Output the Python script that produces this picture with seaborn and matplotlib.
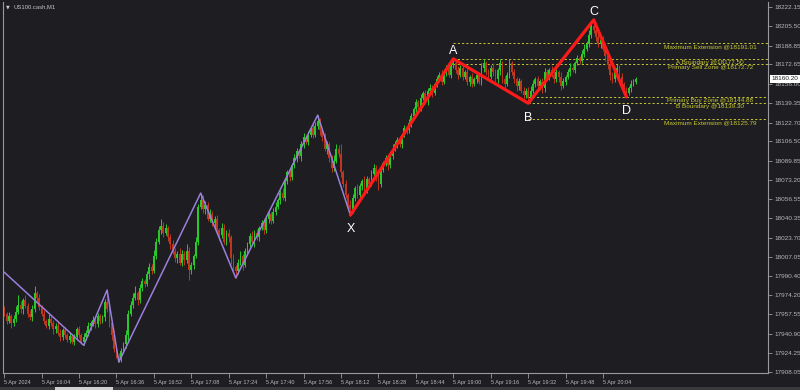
import numpy as np
import pandas as pd
import matplotlib
matplotlib.use("Agg")
import matplotlib.pyplot as plt
import matplotlib.transforms as mtransforms
from matplotlib.patches import Rectangle
import seaborn as sns

# ---------------- data ----------------
symbol_title = "US100.cash,M1"
first_open = 17962.0
close_prices = [
    17958, 17952, 17956, 17950, 17954, 17960, 17966, 17962, 17970, 17965,
    17958, 17955, 17962, 17976, 17972, 17964, 17958, 17952, 17948, 17954,
    17950, 17945, 17948, 17942, 17938, 17944, 17940, 17936, 17939, 17934,
    17938, 17945, 17940, 17934,
    17938, 17942, 17948, 17950, 17953, 17949, 17956, 17952, 17955, 17968,
    17962, 17950, 17940, 17928, 17922, 17919,
    17926, 17932, 17940, 17958, 17966, 17972, 17976, 17970, 17980, 17986,
    17984, 17992, 17998, 17995, 18008, 18020, 18030, 18034, 18028, 18032,
    18024, 18018, 18012, 18006, 18010, 18002, 18010, 18004, 18012, 17996,
    18000, 18008, 18020, 18050, 18056,
    18048, 18052, 18040, 18044, 18036, 18040, 18030, 18026, 18032, 18020,
    18028, 18024, 18006, 17998, 17995,
    18002, 18008, 18000, 18012, 18018, 18025, 18020, 18028, 18024, 18032,
    18036, 18030, 18040, 18044, 18038, 18046, 18050, 18056, 18062, 18058,
    18072, 18080, 18076, 18086, 18092, 18098, 18094, 18104, 18110, 18106,
    18112, 18118, 18112, 18120, 18124,
    18116, 18110, 18100, 18104, 18092, 18084, 18090, 18100, 18096, 18080,
    18070, 18060, 18052, 18048,
    18058, 18066, 18060, 18068, 18072, 18066, 18074, 18070, 18078, 18084,
    18076, 18070, 18082, 18088, 18092, 18086, 18094, 18100, 18104, 18108,
    18104, 18112, 18118, 18116, 18122, 18128, 18134, 18140, 18136, 18144,
    18148, 18142, 18150, 18152, 18148, 18156, 18160, 18164, 18158, 18166,
    18170, 18164, 18172, 18174,
    18168, 18164, 18170, 18162, 18166, 18158, 18162, 18156, 18160, 18164,
    18158, 18170, 18174, 18166, 18162, 18170, 18166, 18160, 18168, 18174,
    18160, 18156, 18164, 18174, 18166, 18160, 18154, 18158, 18150, 18146,
    18150, 18144,
    18150, 18156, 18160, 18154, 18158, 18152, 18166, 18162, 18168, 18164,
    18160, 18166, 18162, 18154, 18158, 18162, 18166, 18170, 18168, 18174,
    18178, 18176, 18182, 18186, 18190, 18198, 18206, 18202,
    18196, 18190, 18194, 18186, 18180, 18172, 18164, 18160, 18166, 18170,
    18162, 18156, 18150, 18148,
    18152, 18156, 18158, 18160.2,
]
wick_up = [
    3, 2, 4, 2, 3, 5, 8, 3, 2, 4,
    2, 3, 4, 6, 2, 3, 2, 3, 2, 4,
    2, 3, 2, 4, 3, 2, 3, 2, 3, 2,
    3, 2, 3, 2, 4, 2, 3, 2, 3, 2,
    3, 2, 2, 3, 10.6, 3, 2, 3, 2, 2,
    3, 2, 4, 3, 3, 4, 6, 2, 4, 3,
    2, 3, 4, 3, 5, 3, 4, 6, 3, 3,
    2, 3, 4, 3, 2, 5, 3, 2, 6, 4,
    3, 2, 4, 3, 6, 4, 3, 2, 4, 3,
    2, 3, 2, 4, 3, 2, 3, 2, 4, 2,
    3, 4, 2, 3, 2, 3, 4, 2, 3, 2,
    3, 4, 2, 3, 2, 3, 4, 2, 3, 4,
    3, 2, 3, 2, 4, 3, 2, 3, 4, 2,
    3, 2, 4, 3, 5, 3, 2, 4, 3, 2,
    3, 5, 4, 3, 8, 2, 3, 2, 4, 3,
    2, 4, 3, 2, 5, 3, 2, 4, 3, 2,
    3, 4, 2, 3, 2, 3, 4, 3, 2, 3,
    2, 3, 2, 4, 3, 2, 3, 2, 3, 2,
    3, 2, 4, 3, 2, 3, 2, 4, 3, 2,
    3, 2, 3.5, 2, 3, 2, 4, 2, 3, 2,
    3, 2, 3, 2, 4, 3, 2, 3, 2, 4,
    3, 2, 3, 2, 3, 2, 3, 2, 3, 2,
    3, 2, 3, 2, 3, 4, 3, 2, 3, 2,
    3, 4, 3, 2, 3, 2, 3, 2, 4, 3,
    2, 3, 4, 3, 2, 3, 2, 3, 4, 3,
    4, 3, 5, 3, 4, 2, 3, 2, 4, 3,
    2, 4, 3, 2, 3, 2, 3, 2, 3, 2,
    2,
]
wick_dn = [
    2, 3, 2, 4, 2, 3, 2, 3, 4, 2,
    3, 2, 3, 2, 4, 3, 2, 3, 2, 3,
    2, 4, 3, 2, 3, 2, 3, 2, 3, 2,
    3, 2, 3, 2, 3, 2, 3, 4, 2, 3,
    2, 3, 2, 3, 2, 3, 4, 3, 2, 2.4,
    2, 2, 3, 4, 2, 3, 2, 4, 3, 2,
    3, 2, 4, 3, 2, 3, 2, 3, 4, 2,
    3, 4, 2, 3, 4, 2, 3, 4, 2, 9,
    4, 3, 2, 3, 2, 3, 4, 2, 3, 2,
    3, 2, 4, 3, 2, 3, 4, 5, 3, 6,
    3, 2, 4, 2, 3, 2, 3, 4, 2, 3,
    2, 3, 2, 4, 3, 2, 3, 2, 3, 2,
    3, 2, 4, 3, 2, 3, 2, 4, 3, 2,
    3, 2, 3, 2, 3, 4, 3, 2, 4, 3,
    4, 3, 2, 3, 4, 3, 2, 4, 5, 3,
    3, 2, 4, 3, 2, 4, 3, 2, 3, 4,
    5, 3, 2, 3, 4, 2, 3, 2, 3, 2,
    3, 2, 3, 2, 3, 2, 3, 2, 3, 2,
    3, 4, 2, 3, 2, 3, 2, 3, 2, 3,
    2, 3, 2, 3, 4, 2, 3, 2, 3, 4,
    3, 2, 3, 2, 3, 4, 2, 3, 2, 3,
    2, 3, 4, 3, 5, 2, 3, 2, 3, 4,
    3, 2, 3, 2, 4.7, 3, 2, 3, 2, 3,
    4, 3, 2, 3, 2, 3, 2, 4, 3, 2,
    3, 2, 3, 2, 3, 2, 3, 2, 3, 2,
    2, 3, 2, 3, 2, 3, 2, 4, 3, 5,
    3, 2, 3, 4, 3, 2, 3.3, 2, 3, 2,
    2,
]

x_tick_pos = [0, 16, 32, 48, 64, 80, 96, 112, 128, 144, 160, 176, 192, 208,
              224, 240, 256]
x_tick_labels = ["5 Apr 2024", "5 Apr 16:04", "5 Apr 16:20", "5 Apr 16:36",
                 "5 Apr 16:52", "5 Apr 17:08", "5 Apr 17:24", "5 Apr 17:40",
                 "5 Apr 17:56", "5 Apr 18:12", "5 Apr 18:28", "5 Apr 18:44",
                 "5 Apr 19:00", "5 Apr 19:16", "5 Apr 19:32", "5 Apr 19:48",
                 "5 Apr 20:04"]
y_tick_values = [18222.15, 18205.50, 18188.85, 18172.65, 18156.00, 18139.35,
                 18122.70, 18106.50, 18089.85, 18073.20, 18056.55, 18040.35,
                 18023.70, 18007.05, 17990.40, 17974.20, 17957.55, 17940.90,
                 17924.25, 17908.05]

zigzag_idx = [0, 34, 44, 49, 84, 99, 134, 148]
zigzag_price = [17994.0, 17931.0, 17978.6, 17916.6, 18062.0, 17989.0,
                18129.0, 18043.0]

pattern_names = ["X", "A", "B", "C", "D"]
pattern_idx = [148, 192, 224, 252, 266]
pattern_price = [18043.0, 18177.5, 18139.3, 18211.0, 18144.7]

level_names = ["Maximum Extension", "A Boundary", "Primary Sell Zone",
               "Primary Buy Zone", "B Boundary", "Maximum Extension"]
level_values = [18191.01, 18177.50, 18172.72, 18144.88, 18139.30, 18125.79]
level_start = [192, 192, 192, 224, 224, 224]

current_price = 18160.20

# ---------------- style ----------------
BG = "#1d1d22"
GREEN = "#2ac82a"
RED = "#c0361c"
AXC = "#9a9a9a"
TXT = "#b8b8b8"
YEL = "#c8c832"

sns.set_theme(style="dark")
plt.rcParams["font.family"] = ["Liberation Sans", "DejaVu Sans"]

fig = plt.figure(figsize=(8, 3.9), dpi=100, facecolor=BG)
ax = fig.add_axes([3 / 800, 17 / 390, 765 / 800, 371 / 390])
ax.set_facecolor(BG)

n = len(close_prices)
opens = [first_open] + close_prices[:-1]
df = pd.DataFrame({"idx": np.arange(n), "open": opens, "close": close_prices,
                   "wu": wick_up, "wd": wick_dn})
df["high"] = df[["open", "close"]].max(axis=1) + df["wu"]
df["low"] = df[["open", "close"]].min(axis=1) - df["wd"]
df["bull"] = df["close"] >= df["open"]
colors = np.where(df["bull"], GREEN, RED)

ax.vlines(df["idx"], df["low"], df["high"], colors=colors, linewidth=0.7,
          zorder=2)
body_h = (df["close"] - df["open"]).abs().clip(lower=0.6)
body_b = df[["open", "close"]].min(axis=1)
ax.bar(df["idx"], body_h, bottom=body_b, width=0.78, color=colors,
       linewidth=0, zorder=2.1)

# dashed levels
xmax = 326.5
for name, val, st in zip(level_names, level_values, level_start):
    ax.hlines(val, st, xmax, colors=YEL, linestyles=(0, (2.2, 2.2)),
              linewidth=0.7, zorder=1.5)
    ax.text(301.8, val - 0.9, f"{name} @{val:.2f}", ha="center", va="top",
            fontsize=4.6, color=YEL, zorder=5)

# zigzag (purple)
sns.lineplot(x=zigzag_idx, y=zigzag_price, ax=ax, color="#9b7fdc",
             linewidth=1.1, sort=False, estimator=None, zorder=3)
# XABCD pattern (red)
sns.lineplot(x=pattern_idx, y=pattern_price, ax=ax, color="#ff1a1a",
             linewidth=2.3, sort=False, estimator=None, zorder=4)

for name, xi, pr in zip(pattern_names, pattern_idx, pattern_price):
    if name in ("A", "C"):
        ax.annotate(name, (xi, pr), xytext=(0, 1.2), textcoords="offset points",
                    ha="center", va="bottom", color="white", fontsize=9,
                    zorder=6)
    else:
        ax.annotate(name, (xi, pr), xytext=(0, -6), textcoords="offset points",
                    ha="center", va="top", color="white", fontsize=9,
                    zorder=6)

# axes
ax.set_xlim(-0.5, xmax)
ax.set_ylim(17907.2, 18226.4)
ax.set_xticks(x_tick_pos)
ax.set_xticklabels(x_tick_labels, ha="left")
ax.set_yticks(y_tick_values)
ax.set_yticklabels([f"{v:.2f}" for v in y_tick_values])
ax.yaxis.tick_right()
ax.tick_params(axis="y", which="both", right=True, left=False, length=3,
               width=0.6, color=AXC, labelsize=4.6, labelcolor=TXT, pad=1.5)
ax.tick_params(axis="x", which="both", bottom=True, length=3.5, width=0.6,
               color=AXC, labelsize=4.0, labelcolor=TXT, pad=1.5)
for lab in ax.get_xticklabels():
    lab.set_horizontalalignment("left")
ax.grid(False)
ax.set_xlabel("")
ax.set_ylabel("")
for side in ["left", "right", "bottom"]:
    ax.spines[side].set_visible(True)
    ax.spines[side].set_color(AXC)
    ax.spines[side].set_linewidth(0.8)
ax.spines["top"].set_visible(False)

# current price box
trans = mtransforms.blended_transform_factory(ax.transAxes, ax.transData)
ax.text(1.0045, current_price, f"{current_price:.2f}", transform=trans,
        ha="left", va="center", fontsize=4.6, color="#1d1d22",
        bbox=dict(boxstyle="square,pad=0.25", fc="white", ec="none"),
        clip_on=False, zorder=10)

# title
fig.text(6 / 800, 1 - 7 / 390, "\u25bc", fontsize=3.5, color="#c8c8c8",
         va="center", ha="left", family="DejaVu Sans")
fig.text(13 / 800, 1 - 7 / 390, symbol_title, fontsize=4.2, color="#c8c8c8",
         va="center", ha="left")

# bottom strip
fig.patches.append(Rectangle((0, 0), 1, 3.5 / 390, transform=fig.transFigure,
                             facecolor="#3a3a3e", edgecolor="none"))
fig.patches.append(Rectangle((55 / 800, 0), 58 / 800, 3 / 390,
                             transform=fig.transFigure, facecolor="#d0d0d0",
                             edgecolor="none"))

fig.savefig("out.png", dpi=100, facecolor=BG)
